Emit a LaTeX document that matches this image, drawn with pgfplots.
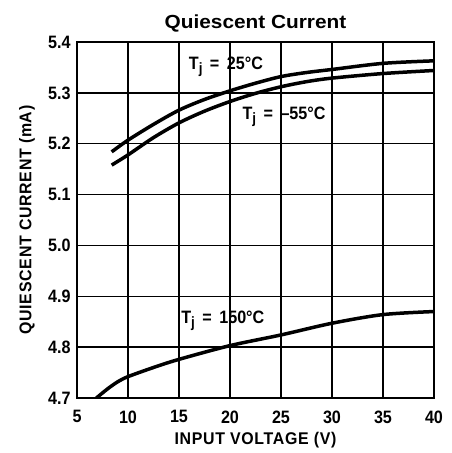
\documentclass[border=0pt]{standalone}
\usepackage{fontspec}
\setmainfont{Liberation Sans}
\newfontfamily\cond{Liberation Sans}[FakeStretch=0.9]
\newfontfamily\condl{Liberation Sans}[FakeStretch=0.94, LetterSpace=4]
\newfontfamily\wide{Liberation Sans}[FakeStretch=1.1]
\usepackage{pgfplots}
\pgfplotsset{compat=1.18}
\newcommand{\Tj}{T\raisebox{-4bp}{\fontsize{15}{15}\selectfont j}}
\begin{document}
\begin{tikzpicture}
\useasboundingbox (-77bp,-55bp) rectangle (375bp,398bp);
\begin{axis}[
 name=ax,
 scale only axis, width=357bp, height=356bp,
 xmin=5, xmax=40, ymin=4.7, ymax=5.4,
 xtick={5,10,15,20,25,30,35,40},
 ytick={4.7,4.8,4.9,5.0,5.1,5.2,5.3,5.4},
 yticklabels={4.7,4.8,4.9,5.0,5.1,5.2,5.3,5.4},
 /pgf/number format/assume math mode=true,
 grid=major, major grid style={black, line width=1.3bp},
 axis line style={line width=2.6bp},
 major tick length=0pt,
 tick label style={font=\cond\bfseries\fontsize{18}{18}\selectfont},
 yticklabel style={xshift=-3bp},
 xticklabel style={yshift=-9bp},
 xlabel={INPUT VOLTAGE (V)},
 ylabel={QUIESCENT CURRENT (mA)},
 label style={font=\condl\bfseries\fontsize{17}{17}\selectfont},
 xlabel style={at={(axis description cs:0.5,-0.132)}, anchor=base},
 ylabel style={at={(axis description cs:-0.128,0.5)}, anchor=base},
]
\addplot[black, line width=3.5bp, smooth] coordinates {(8.4,5.184) (10,5.207) (12.5,5.238) (15,5.266) (17.5,5.287) (20,5.304) (22.5,5.319) (25,5.332) (27.5,5.340) (30,5.346) (35,5.358) (40,5.363)};
\addplot[black, line width=3.5bp, smooth] coordinates {(8.4,5.158) (10,5.178) (12.5,5.212) (15,5.241) (17.5,5.264) (20,5.283) (22.5,5.299) (25,5.312) (27.5,5.322) (30,5.329) (35,5.338) (40,5.344)};
\addplot[black, line width=3.5bp, smooth] coordinates {(6.9,4.70) (8,4.718) (9,4.732) (10,4.742) (12.5,4.760) (15,4.776) (20,4.803) (25,4.824) (30,4.847) (35,4.864) (40,4.870)};
\node[font=\cond\bfseries\fontsize{18}{18}\selectfont] at (axis cs:19.6,5.351) {\Tj{} \,=\, 25°C};
\node[font=\cond\bfseries\fontsize{18}{18}\selectfont] at (axis cs:25.3,5.253) {\Tj{} \,=\, –55°C};
\node[font=\cond\bfseries\fontsize{18}{18}\selectfont] at (axis cs:19.3,4.851) {\Tj{} \,=\, 150°C};
\end{axis}
\node[font=\wide\bfseries\fontsize{19}{19}\selectfont, anchor=base, inner sep=0pt] at ([yshift=14bp]ax.north) {Quiescent Current};
\end{tikzpicture}
\end{document}
